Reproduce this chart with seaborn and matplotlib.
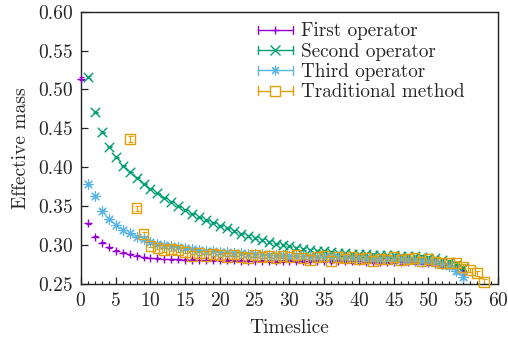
import numpy as np
import pandas as pd
import matplotlib
matplotlib.use("Agg")
import matplotlib.pyplot as plt
from matplotlib.lines import Line2D
from matplotlib.legend_handler import HandlerBase
from matplotlib.ticker import MultipleLocator, FormatStrFormatter
import seaborn as sns

# ---- data ---------------------------------------------------------------
t_first = list(range(0, 56))
m_first = [0.514, 0.328, 0.3108, 0.3031, 0.2972, 0.2928, 0.2902, 0.2882, 0.2862, 0.2845,
           0.2835, 0.2828, 0.2822, 0.2818, 0.2815, 0.2812, 0.2810, 0.2808, 0.2806, 0.2805,
           0.2804, 0.2803, 0.2802, 0.2801, 0.2800, 0.2800, 0.2799, 0.2799, 0.2798, 0.2798,
           0.2797, 0.2797, 0.2796, 0.2796, 0.2795, 0.2795, 0.2794, 0.2793, 0.2792, 0.2791,
           0.2790, 0.2789, 0.2788, 0.2787, 0.2786, 0.2785, 0.2783, 0.2781, 0.2778, 0.2774,
           0.2769, 0.2762, 0.2750, 0.2732, 0.2700, 0.2650]
e_first = [0.002, 0.0008, 0.0006, 0.0005, 0.0005, 0.0005, 0.0005, 0.0005, 0.0005, 0.0005,
           0.0005, 0.0005, 0.0005, 0.0005, 0.0005, 0.0006, 0.0006, 0.0006, 0.0006, 0.0007,
           0.0007, 0.0007, 0.0008, 0.0008, 0.0008, 0.0009, 0.0009, 0.0010, 0.0010, 0.0010,
           0.0011, 0.0011, 0.0012, 0.0012, 0.0013, 0.0013, 0.0014, 0.0014, 0.0015, 0.0015,
           0.0016, 0.0016, 0.0017, 0.0018, 0.0018, 0.0019, 0.0020, 0.0021, 0.0022, 0.0023,
           0.0024, 0.0025, 0.0027, 0.0029, 0.0031, 0.0034]

t_second = list(range(1, 56))
m_second = [0.516, 0.471, 0.445, 0.4265, 0.413, 0.402, 0.394, 0.3865, 0.379, 0.3727,
            0.367, 0.361, 0.3556, 0.350, 0.3457, 0.3406, 0.3360, 0.3320, 0.3287, 0.3250,
            0.3215, 0.3180, 0.3148, 0.3118, 0.3090, 0.3065, 0.3042, 0.3020, 0.3000, 0.2982,
            0.2966, 0.2952, 0.2940, 0.2929, 0.2919, 0.2910, 0.2902, 0.2895, 0.2889, 0.2884,
            0.2880, 0.2876, 0.2873, 0.2870, 0.2867, 0.2864, 0.2860, 0.2855, 0.2848, 0.2840,
            0.2828, 0.2810, 0.2785, 0.2750, 0.2700]
e_second = [0.0008, 0.0006, 0.0005, 0.0005, 0.0005, 0.0005, 0.0005, 0.0005, 0.0005, 0.0005,
            0.0005, 0.0005, 0.0005, 0.0005, 0.0006, 0.0006, 0.0006, 0.0006, 0.0007, 0.0007,
            0.0007, 0.0008, 0.0008, 0.0008, 0.0009, 0.0009, 0.0010, 0.0010, 0.0010, 0.0011,
            0.0011, 0.0012, 0.0012, 0.0013, 0.0013, 0.0014, 0.0014, 0.0015, 0.0015, 0.0016,
            0.0016, 0.0017, 0.0018, 0.0018, 0.0019, 0.0020, 0.0021, 0.0022, 0.0023, 0.0024,
            0.0025, 0.0027, 0.0029, 0.0031, 0.0034]

t_third = list(range(1, 56))
m_third = [0.378, 0.3631, 0.3442, 0.3332, 0.3258, 0.3194, 0.3152, 0.3108, 0.3075, 0.3044,
           0.3020, 0.3000, 0.2984, 0.2970, 0.2958, 0.2947, 0.2937, 0.2928, 0.2920, 0.2913,
           0.2906, 0.2900, 0.2894, 0.2889, 0.2884, 0.2880, 0.2876, 0.2872, 0.2868, 0.2865,
           0.2862, 0.2859, 0.2856, 0.2853, 0.2850, 0.2847, 0.2844, 0.2841, 0.2838, 0.2835,
           0.2832, 0.2829, 0.2826, 0.2823, 0.2820, 0.2816, 0.2812, 0.2807, 0.2800, 0.2792,
           0.2780, 0.2762, 0.2735, 0.2665, 0.2594]
e_third = [0.0008, 0.0006, 0.0005, 0.0005, 0.0005, 0.0005, 0.0005, 0.0005, 0.0005, 0.0005,
           0.0005, 0.0005, 0.0005, 0.0005, 0.0006, 0.0006, 0.0006, 0.0006, 0.0007, 0.0007,
           0.0007, 0.0008, 0.0008, 0.0008, 0.0009, 0.0009, 0.0010, 0.0010, 0.0010, 0.0011,
           0.0011, 0.0012, 0.0012, 0.0013, 0.0013, 0.0014, 0.0014, 0.0015, 0.0015, 0.0016,
           0.0016, 0.0017, 0.0018, 0.0018, 0.0019, 0.0020, 0.0021, 0.0022, 0.0023, 0.0024,
           0.0025, 0.0027, 0.0029, 0.0031, 0.0034]

t_trad = list(range(7, 59))
m_trad = [0.436, 0.3473, 0.3139, 0.2989, 0.2967, 0.2937, 0.2946, 0.2937, 0.2915, 0.2860,
          0.2894, 0.2860, 0.2885, 0.2870, 0.2840, 0.2878, 0.2852, 0.2835, 0.2868, 0.2848,
          0.2862, 0.2830, 0.2858, 0.2845, 0.2872, 0.2838, 0.2812, 0.2852, 0.2860, 0.2795,
          0.2842, 0.2828, 0.2850, 0.2820, 0.2835, 0.2798, 0.2826, 0.2815, 0.2842, 0.2808,
          0.2820, 0.2835, 0.2790, 0.2818, 0.2790, 0.2768, 0.2775, 0.2774, 0.2722, 0.2680,
          0.2637, 0.2530]
e_trad = [0.004, 0.003, 0.0025, 0.002, 0.002, 0.002, 0.002, 0.002, 0.002, 0.002,
          0.002, 0.002, 0.002, 0.002, 0.002, 0.002, 0.002, 0.002, 0.002, 0.002,
          0.002, 0.002, 0.002, 0.002, 0.002, 0.002, 0.002, 0.002, 0.002, 0.002,
          0.002, 0.002, 0.002, 0.002, 0.002, 0.002, 0.002, 0.002, 0.002, 0.002,
          0.002, 0.002, 0.002, 0.002, 0.0025, 0.0025, 0.0025, 0.0025, 0.003, 0.003,
          0.003, 0.003]

labels = ["First operator", "Second operator", "Third operator", "Traditional method"]
colors = ["#9400D3", "#009E73", "#56B4E9", "#E69F00"]
x_ticks = [0, 5, 10, 15, 20, 25, 30, 35, 40, 45, 50, 55, 60]
y_ticks = [0.25, 0.30, 0.35, 0.40, 0.45, 0.50, 0.55, 0.60]

# ---- style --------------------------------------------------------------
sns.set_theme(style="ticks")
plt.rcParams["font.family"] = ["cmr10", "DejaVu Serif"]
plt.rcParams["mathtext.fontset"] = "cm"
plt.rcParams["axes.formatter.use_mathtext"] = True
plt.rcParams["axes.unicode_minus"] = False

FS = 14
FS_LEG = 13.8

fig = plt.figure(figsize=(5.08, 3.41), dpi=100)
ax = fig.add_axes([0.1594, 0.1672, 0.8209, 0.7985])

# (t, mass, error, marker, size, edge width, filled)
series = [
    (t_first, m_first, e_first, "+", 40, 1.0, True),
    (t_second, m_second, e_second, "x", 46, 1.0, True),
    (t_third, m_third, e_third, (8, 2, 0), 48, 0.8, True),
    (t_trad, m_trad, e_trad, "s", 50, 1.0, False),
]

for (t, m, e, mk, size, lw, filled), lab, col in zip(series, labels, colors):
    df = pd.DataFrame({"Timeslice": t, "Effective mass": m, "err": e})
    ax.errorbar(df["Timeslice"], df["Effective mass"], yerr=df["err"], fmt="none",
                ecolor=col, elinewidth=0.8, capsize=1.8, capthick=0.8, clip_on=False,
                zorder=2)
    if filled:
        sns.scatterplot(data=df, x="Timeslice", y="Effective mass", marker=mk, s=size,
                        color=col, linewidth=lw, ax=ax, legend=False, clip_on=False,
                        zorder=3)
    else:
        sns.scatterplot(data=df, x="Timeslice", y="Effective mass", marker=mk, s=size,
                        facecolor="none", edgecolor=col, linewidth=lw, ax=ax,
                        legend=False, clip_on=False, zorder=3)

# ---- axes ---------------------------------------------------------------
ax.set_xlim(0, 60)
ax.set_ylim(0.25, 0.60)
ax.set_xticks(x_ticks)
ax.set_yticks(y_ticks)
ax.xaxis.set_minor_locator(MultipleLocator(1))
ax.yaxis.set_major_formatter(FormatStrFormatter("%.2f"))
ax.tick_params(axis="both", which="major", direction="in", length=5, width=0.9,
               labelsize=FS, color="#222222", top=False, right=False, pad=6)
ax.tick_params(axis="x", which="minor", direction="in", length=2.5, width=0.8,
               color="#222222", top=False)
for sp in ax.spines.values():
    sp.set_visible(True)
    sp.set_color("#222222")
    sp.set_linewidth(1.0)
ax.set_xlabel("Timeslice", fontsize=FS, labelpad=6)
ax.set_ylabel("Effective mass", fontsize=FS, labelpad=6)


# ---- legend with error-bar style keys ----------------------------------
class ErrKey(HandlerBase):
    def __init__(self, color, marker, filled, ms, mew):
        super().__init__()
        self.color, self.marker, self.filled = color, marker, filled
        self.ms, self.mew = ms, mew

    def create_artists(self, legend, orig_handle, xdescent, ydescent, width,
                       height, fontsize, trans):
        y = height / 2 - ydescent
        x0, x1 = -xdescent, width - xdescent
        h = 3.0
        arts = [
            Line2D([x0, x1], [y, y], color=self.color, lw=1.0),
            Line2D([x0, x0], [y - h, y + h], color=self.color, lw=1.0),
            Line2D([x1, x1], [y - h, y + h], color=self.color, lw=1.0),
            Line2D([(x0 + x1) / 2], [y], marker=self.marker, ms=self.ms,
                   color=self.color, mew=self.mew,
                   mfc=self.color if self.filled else "white", linestyle="none"),
        ]
        for a in arts:
            a.set_transform(trans)
        return arts


handles = [Line2D([], []) for _ in labels]
hmap = {h: ErrKey(c, s[3], s[6], np.sqrt(s[4]), s[5])
        for h, c, s in zip(handles, colors, series)}
ax.legend(handles, labels, handler_map=hmap, loc="upper left",
          bbox_to_anchor=(258 / 508, 1 - 22.5 / 341), bbox_transform=fig.transFigure,
          frameon=False, fontsize=FS_LEG, handlelength=1.82, handletextpad=0.42,
          labelspacing=0.12, borderpad=0, borderaxespad=0)

fig.savefig("out.png", dpi=100)
